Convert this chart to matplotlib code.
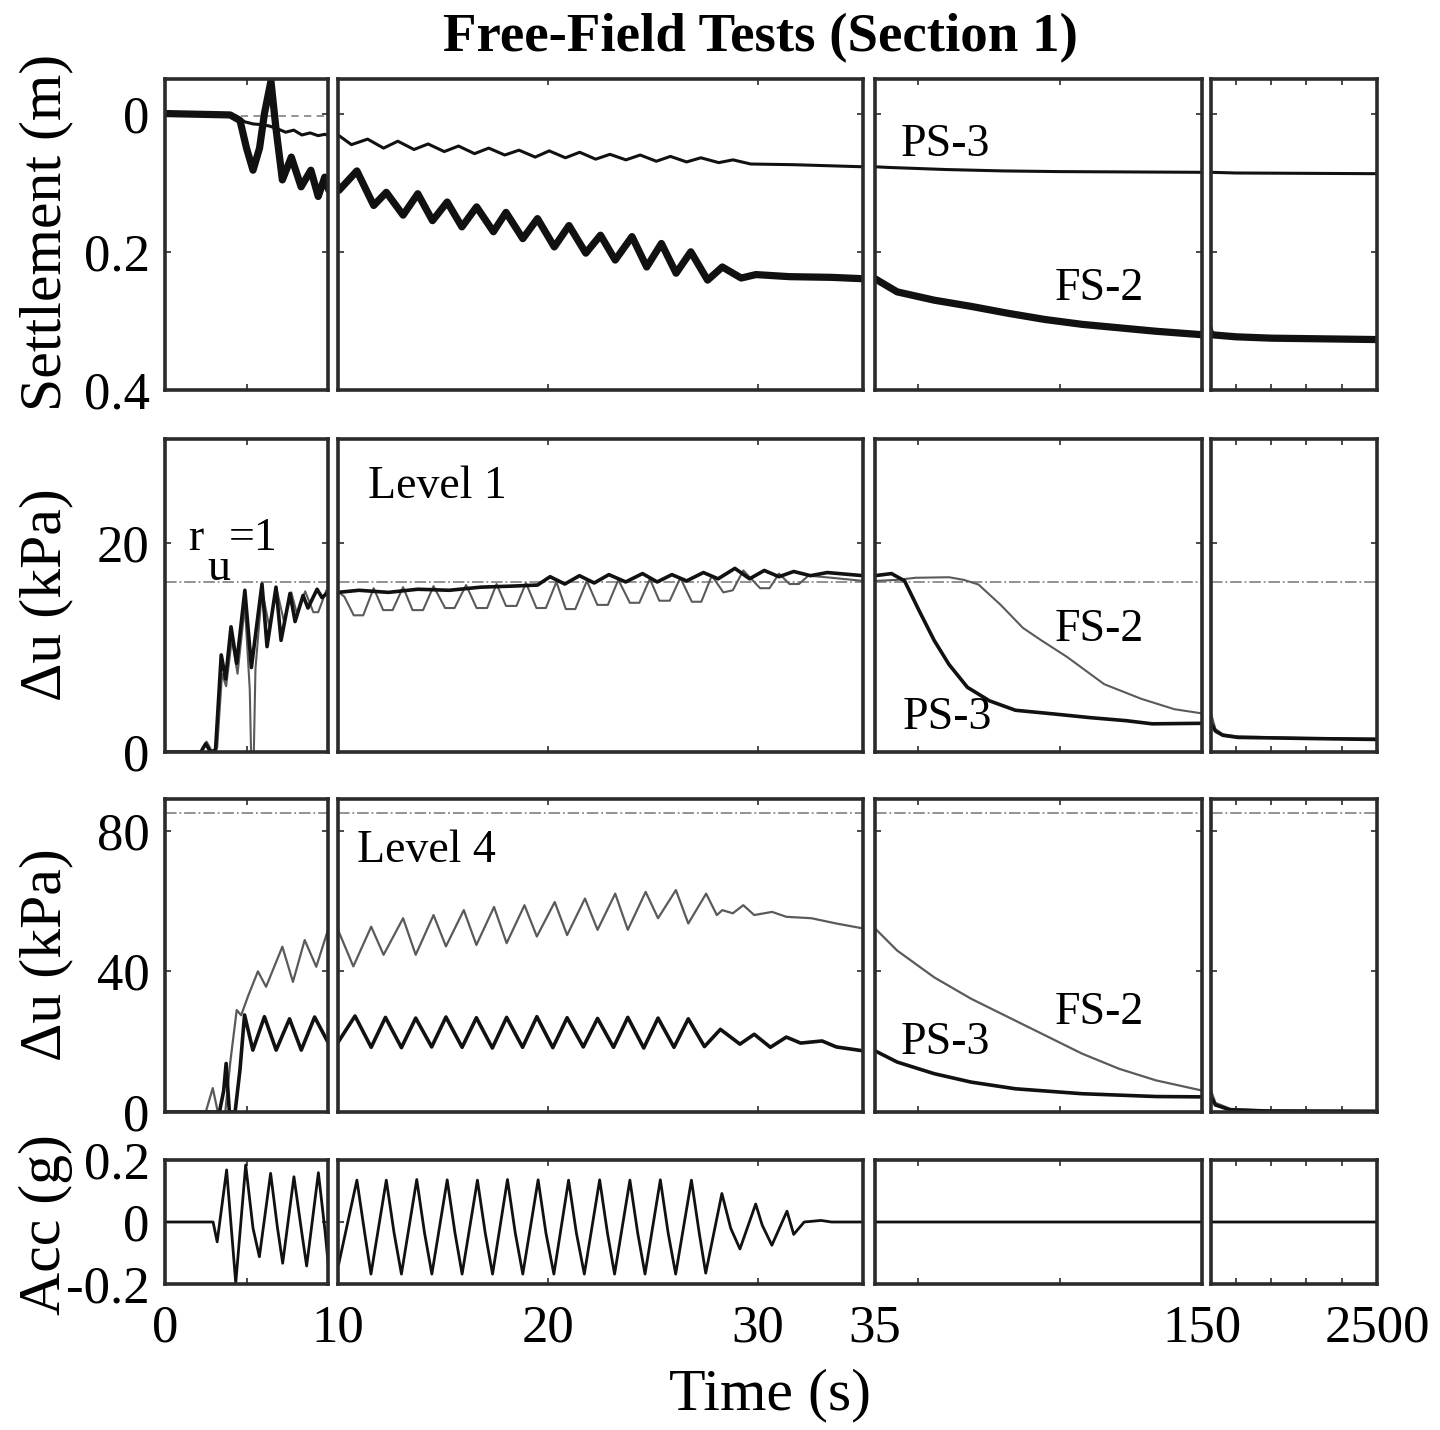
import matplotlib
matplotlib.use('Agg')
import matplotlib.pyplot as plt

# ---- data ----

# settlement (m)
settle_ps3_t = [0, 3.9, 4.4, 4.9, 5.4, 5.9, 6.4, 6.9, 7.4, 7.9, 8.4, 8.9, 9.4, 9.8,
                10.05, 10.64, 11.41, 12.17, 12.85, 13.62, 14.29, 15.06, 15.74, 16.50,
                17.18, 17.94, 18.62, 19.39, 20.06, 20.83, 21.51, 22.27, 22.95, 23.71,
                24.39, 25.16, 25.83, 26.60, 27.28, 28.13, 28.81, 29.65, 31.7, 35,
                40, 60, 80, 100, 150, 500, 2500]
settle_ps3 = [0, 0.001, 0.004, 0.012, 0.015, 0.016, 0.018, 0.022, 0.027, 0.024, 0.031,
              0.028, 0.032, 0.030, 0.032, 0.045, 0.037, 0.050, 0.040, 0.052, 0.044,
              0.055, 0.047, 0.058, 0.050, 0.060, 0.053, 0.063, 0.054, 0.064, 0.056,
              0.066, 0.059, 0.067, 0.060, 0.069, 0.062, 0.070, 0.064, 0.071, 0.067,
              0.073, 0.074, 0.077, 0.078, 0.081, 0.083, 0.084, 0.085, 0.086, 0.087]

settle_fs2_t = [0, 4.0, 4.6, 5.0, 5.4, 5.8, 6.1, 6.5, 6.8, 7.2, 7.75, 8.35, 8.95, 9.4,
                9.8, 10.05, 10.9, 11.7, 12.3, 13.1, 13.8, 14.5, 15.2, 15.9, 16.6, 17.4,
                18.0, 18.8, 19.5, 20.3, 21.0, 21.8, 22.5, 23.2, 24.0, 24.7, 25.4, 26.1,
                26.8, 27.6, 28.3, 29.2, 29.9, 31.5, 33.5, 35, 42.8, 55.8, 68.8, 81.8,
                94.8, 107.8, 120.8, 133.8, 150, 500, 1000, 2500]
settle_fs2 = [0, 0.002, 0.01, 0.05, 0.082, 0.05, 0.0, -0.047, 0.02, 0.096, 0.063,
              0.106, 0.082, 0.120, 0.092, 0.111, 0.083, 0.133, 0.114, 0.147, 0.116,
              0.155, 0.128, 0.164, 0.135, 0.171, 0.143, 0.181, 0.152, 0.193, 0.162,
              0.202, 0.176, 0.212, 0.178, 0.222, 0.188, 0.231, 0.200, 0.241, 0.222,
              0.238, 0.233, 0.236, 0.237, 0.239, 0.258, 0.270, 0.279, 0.289, 0.298,
              0.305, 0.310, 0.315, 0.320, 0.323, 0.325, 0.327]

# excess pore pressure, level 1 (kPa)
lv1_ps3_t = [0, 2.2, 2.5, 2.8, 3.1, 3.45, 3.72, 4.05, 4.4, 4.9, 5.3, 5.95, 6.26, 6.81,
             7.12, 7.67, 7.98, 8.47, 8.77, 9.33, 9.63, 10.0, 11.0, 12.4, 13.8, 15.3,
             16.8, 18.3, 19.5, 20.1, 20.8, 21.5, 22.2, 22.9, 23.7, 24.5, 25.2, 25.9,
             26.6, 27.4, 28.1, 28.9, 29.6, 30.3, 31.0, 31.7, 32.5, 33.3, 35.0,
             40.8, 45.4, 50.6, 55.8, 61, 67.5, 75.3, 84.4, 97.4, 110.4, 123.4, 132.5,
             150, 213, 318, 528, 1475, 2500]
lv1_ps3 = [0, 0, 0.8, 0, 0.2, 9.3, 7.0, 12.0, 8.5, 15.5, 8.1, 16.1, 10.1, 15.8, 10.7,
           15.2, 12.5, 15.0, 13.8, 15.6, 14.8, 15.3, 15.5, 15.3, 15.6, 15.5, 15.8, 15.9,
           16.0, 16.8, 16.1, 16.9, 16.2, 17.0, 16.3, 17.1, 16.3, 17.0, 16.4, 17.2, 16.6,
           17.6, 16.6, 17.4, 16.8, 17.3, 16.9, 17.2, 16.9,
           17.1, 16.4, 13.5, 10.7, 8.4, 6.2, 4.9, 4.0, 3.66, 3.3, 3.0, 2.7,
           2.75, 2.0, 1.6, 1.4, 1.3, 1.2]

lv1_fs2_t = [0, 2.2, 2.55, 2.9, 3.2, 3.5, 3.75, 4.1, 4.45, 4.9, 5.2, 5.28, 5.45, 5.55,
             5.95, 6.4, 6.85, 7.3, 7.75, 8.1, 8.6, 9.1, 9.4, 9.9, 10.3, 10.75, 11.2,
             11.7, 12.15, 12.6, 13.1, 13.55, 14.05, 14.55, 15.1, 15.55, 16.1, 16.6,
             17.1, 17.55, 18.0, 18.5, 18.95, 19.45, 19.9, 20.4, 20.85, 21.3, 21.85,
             22.35, 22.85, 23.35, 23.9, 24.35, 24.85, 25.3, 25.8, 26.3, 26.85, 27.3,
             27.8, 28.35, 28.8, 29.3, 30.1, 30.55, 31.0, 31.5, 31.95, 32.4, 33.5, 35,
             42.8, 49.3, 61, 66.2, 71.4, 79.2, 87, 93.5, 102.6, 115.6, 128.6, 140.3,
             150, 213, 318, 528, 1475, 2500]
lv1_fs2 = [0, 0, 1.0, 0, 0.4, 7.5, 6.3, 10.8, 7.5, 14.0, 6.0, 0, 0, 8.0, 15.5, 12.0,
           15.6, 12.5, 15.3, 13.2, 15.4, 13.4, 13.4, 15.5, 14.9, 13.1, 13.1, 15.7, 13.6,
           13.6, 15.8, 13.6, 13.6, 15.9, 13.8, 13.8, 16.0, 13.8, 13.8, 16.1, 14.0, 14.0,
           16.2, 13.8, 13.8, 16.3, 13.7, 13.7, 16.4, 14.1, 14.1, 16.5, 14.3, 14.3, 16.6,
           14.5, 14.5, 16.7, 14.4, 14.4, 16.9, 15.3, 15.5, 17.4, 15.7, 15.7, 17.1, 16.1,
           16.1, 16.9, 16.7, 16.4,
           16.5, 16.7, 16.75, 16.5, 16.05, 14.1, 11.9, 10.7, 9.1, 6.5, 5.1, 4.1,
           3.7, 2.2, 1.7, 1.5, 1.35, 1.3]

# excess pore pressure, level 4 (kPa)
lv4_ps3_t = [0, 3.34, 3.6, 3.75, 3.95, 4.3, 4.6, 4.88, 5.39, 6.1, 6.82, 7.64, 8.36,
             9.18, 10.0, 10.81, 11.58, 12.26, 13.02, 13.70, 14.46, 15.14, 15.91, 16.59,
             17.35, 18.03, 18.79, 19.47, 20.23, 20.91, 21.68, 22.36, 23.12, 23.80,
             24.56, 25.24, 26.0, 26.68, 27.45, 28.21, 29.14, 29.82, 30.59, 31.35,
             32.03, 33.05, 33.73, 35, 42.8, 55.8, 68.8, 84.4, 107.8, 133.8, 150, 213,
             423, 950, 2500]
lv4_ps3 = [0, 0, 6, 13.8, 0, 0, 12, 27.6, 17.6, 27.1, 17.6, 26.5, 17.6, 27.0, 19.8,
           27.3, 18.4, 26.9, 18.3, 26.7, 18.5, 27.0, 18.4, 26.8, 18.2, 26.9, 18.4, 27.1,
           18.3, 26.8, 18.5, 26.6, 18.4, 26.9, 18.2, 26.7, 18.4, 26.5, 18.6, 23.5, 19.3,
           22.1, 18.4, 21.3, 19.6, 20.2, 18.5, 17.4, 14.2, 10.9, 8.5, 6.6, 5.2, 4.4,
           4.3, 2.0, 0.6, 0.3, 0.2]

lv4_fs2_t = [0, 2.5, 2.93, 3.24, 3.7, 4.0, 4.4, 4.67, 5.1, 5.7, 6.2, 7.2, 7.85, 8.57,
             9.28, 10.0, 10.73, 11.58, 12.17, 13.1, 13.7, 14.55, 15.14, 15.99, 16.59,
             17.43, 18.03, 18.88, 19.47, 20.32, 20.91, 21.76, 22.36, 23.2, 23.8, 24.65,
             25.24, 26.09, 26.68, 27.53, 28.04, 28.3, 28.8, 29.3, 29.82, 30.67, 31.35,
             32.54, 33.73, 35, 42.8, 55.8, 68.8, 81.8, 94.8, 107.8, 120.8, 133.8, 150,
             213, 423, 950, 2500]
lv4_fs2 = [0, 0, 6.8, 0, 0, 14, 29, 27.5, 33, 40, 35.6, 47, 37, 48.9, 41.3, 51.8,
           41.4, 52.7, 44.7, 55.1, 44.7, 56.0, 47.1, 57.4, 47.5, 58.3, 48.0, 58.8, 49.9,
           59.7, 50.3, 60.7, 51.8, 62.1, 51.8, 62.6, 55.1, 63.1, 53.6, 62.1, 56.0, 57.4,
           56.5, 58.8, 56.0, 56.9, 55.5, 55.1, 53.6, 52.2, 45.9, 38.3, 32.2, 27.0,
           21.8, 16.6, 12.3, 9.0, 6.1, 2.6, 0.9, 0.4, 0.3]

# input acceleration (g)
acc_t = [0, 2.95, 3.2, 3.78, 4.34, 4.95, 5.4, 5.79, 6.48, 6.89, 7.22, 7.91, 8.38, 8.69,
         9.41, 9.82, 10.02, 10.90, 11.27, 11.57, 12.30, 12.67, 13.02, 13.75, 14.12,
         14.47, 15.20, 15.57, 15.91, 16.64, 17.01, 17.36, 18.07, 18.44, 18.80, 19.53,
         19.90, 20.28, 20.98, 21.35, 21.73, 22.46, 22.83, 23.17, 23.90, 24.27, 24.62,
         25.35, 25.72, 26.08, 26.83, 27.20, 27.51, 28.28, 28.70, 29.14, 29.89, 30.20,
         30.66, 31.38, 31.70, 32.2, 33.0, 33.5, 35, 2500]
acc = [0, 0, -0.064, 0.168, -0.197, 0.184, -0.02, -0.112, 0.157, -0.015, -0.133,
       0.146, -0.03, -0.142, 0.159, -0.03, -0.14, 0.135, -0.035, -0.168, 0.135, -0.035,
       -0.168, 0.137, -0.035, -0.168, 0.136, -0.035, -0.168, 0.135, -0.035, -0.168,
       0.137, -0.035, -0.168, 0.136, -0.035, -0.168, 0.135, -0.035, -0.168, 0.136,
       -0.035, -0.168, 0.135, -0.035, -0.168, 0.136, -0.035, -0.168, 0.135, -0.035,
       -0.165, 0.092, -0.02, -0.087, 0.058, -0.01, -0.075, 0.035, -0.04, 0.0, 0.005,
       0.0, 0.0, 0.0]

ru1_lv1 = 16.3
ru1_lv4 = 85.0

# ---- layout (pixel boxes of the panels) ----
W, H = 1440, 1430
cols = [(165, 328), (338, 863), (875, 1202), (1211, 1377)]
rows = [(79, 390), (439, 752), (799, 1112), (1160, 1284)]
xlims = [(0, 10), (10, 35), (35, 150), (150, 2500)]
xticks = [[0, 5, 10], [10, 20, 30], [35, 50, 100, 150], [150, 500, 1000, 1500, 2000, 2500]]
xlabels = [['0', '', ''], ['10', '20', '30'], ['35', '', '', '150'], ['', '', '', '', '', '2500']]

plt.rcParams['font.family'] = ['Liberation Serif', 'DejaVu Serif']
frame_c = '#2b2b2b'
gray_c = '#5a5a5a'
ref_c = '#8a8a8a'
tick_fs = 38
lab_fs = 43
ann_fs = 33

fig = plt.figure(figsize=(W / 100, H / 100), dpi=100)

axes = []
for ri, r in enumerate(rows):
    line = []
    for ci, c in enumerate(cols):
        ax = fig.add_axes([c[0] / W, 1 - r[1] / H, (c[1] - c[0]) / W, (r[1] - r[0]) / H])
        ax.set_xlim(*xlims[ci])
        for s in ax.spines.values():
            s.set_linewidth(2.6)
            s.set_color(frame_c)
        ax.tick_params(direction='in', length=4, width=1.2, color=frame_c,
                       top=True, right=True, labelsize=tick_fs, pad=11)
        ax.set_xticks(xticks[ci])
        if ri == 3:
            ax.set_xticklabels(xlabels[ci])
            ax.tick_params(axis='x', pad=15)
        else:
            ax.set_xticklabels([])
        line.append(ax)
    axes.append(line)

# row 1 : settlement
for ci, ax in enumerate(axes[0]):
    ax.set_ylim(0.4, -0.05)
    ax.set_yticks([0, 0.2, 0.4])
    if ci == 0:
        ax.set_yticklabels(['0', '0.2', '0.4'])
        ax.axhline(0.004, color=ref_c, lw=1.3, ls=(0, (4, 3)), zorder=1)
    else:
        ax.set_yticklabels([])
    ax.plot(settle_fs2_t, settle_fs2, color='#111111', lw=5.2, solid_capstyle='butt')
    ax.plot(settle_ps3_t, settle_ps3, color='#111111', lw=2.2)

# row 2 : level 1
for ci, ax in enumerate(axes[1]):
    ax.set_ylim(0, 30)
    ax.set_yticks([0, 20])
    ax.set_yticklabels(['0', '20'] if ci == 0 else [])
    ax.axhline(ru1_lv1, color=ref_c, lw=1.3, ls='-.', zorder=1)
    ax.plot(lv1_fs2_t, lv1_fs2, color=gray_c, lw=1.5)
    ax.plot(lv1_ps3_t, lv1_ps3, color='#111111', lw=2.6)

# row 3 : level 4
for ci, ax in enumerate(axes[2]):
    ax.set_ylim(0, 89)
    ax.set_yticks([0, 40, 80])
    ax.set_yticklabels(['0', '40', '80'] if ci == 0 else [])
    ax.axhline(ru1_lv4, color=ref_c, lw=1.3, ls='-.', zorder=1)
    ax.plot(lv4_fs2_t, lv4_fs2, color=gray_c, lw=1.6)
    ax.plot(lv4_ps3_t, lv4_ps3, color='#111111', lw=2.6)

# row 4 : acceleration
for ci, ax in enumerate(axes[3]):
    ax.set_ylim(-0.2, 0.2)
    ax.set_yticks([-0.2, 0, 0.2])
    ax.set_yticklabels(['-0.2', '0', '0.2'] if ci == 0 else [])
    ax.plot(acc_t, acc, color='#111111', lw=2.0)

# annotations
a = axes[0][2]
a.text(0.080, 0.79, 'PS-3', transform=a.transAxes, fontsize=ann_fs, va='center')
a.text(0.550, 0.325, 'FS-2', transform=a.transAxes, fontsize=ann_fs, va='center')
a = axes[1][1]
a.text(0.057, 0.847, 'Level 1', transform=a.transAxes, fontsize=ann_fs, va='center')
a = axes[1][2]
a.text(0.550, 0.39, 'FS-2', transform=a.transAxes, fontsize=ann_fs, va='center')
a.text(0.085, 0.11, 'PS-3', transform=a.transAxes, fontsize=ann_fs, va='center')
a = axes[1][0]
a.text(0.14, 0.68, 'r', transform=a.transAxes, fontsize=ann_fs, va='center')
a.text(0.26, 0.585, 'u', transform=a.transAxes, fontsize=ann_fs, va='center')
a.text(0.39, 0.68, '=1', transform=a.transAxes, fontsize=ann_fs, va='center')
a = axes[2][1]
a.text(0.036, 0.834, 'Level 4', transform=a.transAxes, fontsize=ann_fs, va='center')
a = axes[2][2]
a.text(0.550, 0.316, 'FS-2', transform=a.transAxes, fontsize=ann_fs, va='center')
a.text(0.080, 0.22, 'PS-3', transform=a.transAxes, fontsize=ann_fs, va='center')

# axis titles
fig.text(760 / W, 1 - 38 / H, 'Free-Field Tests (Section 1)', ha='center', va='center',
         fontsize=39.5, fontweight='bold')
fig.text(770 / W, 1 - 1395 / H, 'Time (s)', ha='center', va='center', fontsize=lab_fs)
fig.text(46 / W, 1 - 232 / H, 'Settlement (m)', ha='center', va='center',
         rotation=90, fontsize=lab_fs)
fig.text(46 / W, 1 - 595 / H, '\u0394u (kPa)', ha='center', va='center',
         rotation=90, fontsize=lab_fs)
fig.text(46 / W, 1 - 955 / H, '\u0394u (kPa)', ha='center', va='center',
         rotation=90, fontsize=lab_fs)
fig.text(46 / W, 1 - 1225 / H, 'Acc (g)', ha='center', va='center',
         rotation=90, fontsize=lab_fs)

fig.savefig('out.png', dpi=100)
